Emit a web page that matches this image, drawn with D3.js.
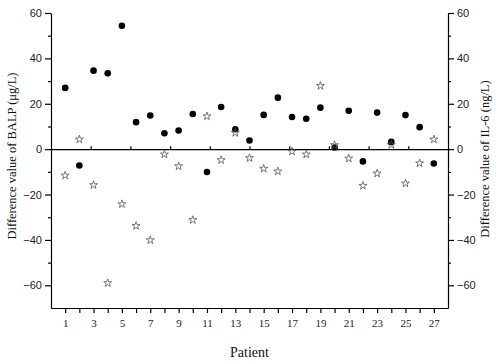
<!DOCTYPE html>
<html>
<head>
<meta charset="utf-8">
<script src="https://cdn.jsdelivr.net/npm/d3@7"></script>
<style>
  body { margin: 0; background: #fff; }
  .axis path, .axis line { stroke: #000; stroke-width: 1.2; }
  .yax text { font-family: "Liberation Sans", Arial, sans-serif; font-size: 11px; fill: #222; }
  .xax text { font-family: "Liberation Serif", "Times New Roman", serif; font-size: 11px; fill: #222; }
  .title { font-family: "Liberation Serif", "Times New Roman", serif; fill: #111; }
</style>
</head>
<body>
<div id="chart"></div>
<script>
// data
const patients = d3.range(1, 28)
const balp = [27.0, -7.2, 34.6, 33.4, 54.4, 11.9, 14.8, 7.0, 8.2, 15.5,
  -10.1, 18.6, 8.8, 3.8, 15.1, 22.7, 14.2, 13.4, 18.3, 0.7,
  16.9, -5.4, 16.1, 3.2, 15.0, 9.7, -6.3]
const il6 = [-11.6, 4.3, -15.8, -59.0, -24.2, -33.8, -40.1, -2.3, -7.5, -31.2,
  14.5, -4.8, 7.2, -3.9, -8.6, -9.8, -1.0, -2.3, 27.9, 1.8,
  -4.1, -16.1, -10.7, 1.9, -15.1, -6.2, 4.3]
const yTicks = [-60, -40, -20, 0, 20, 40, 60]
const yMinor = [-50, -30, -10, 10, 30, 50]

const width = 498
const height = 364
const margin = {top: 13, right: 50, bottom: 56, left: 51}
const innerW = width - margin.left - margin.right
const innerH = height - margin.top - margin.bottom

const svg = d3.select("#chart").append("svg")
  .attr("width", width)
  .attr("height", height)

const bounds = svg.append("g")
  .attr("transform", `translate(${margin.left},${margin.top})`)

const x = d3.scaleLinear().domain([0, 28]).range([0, innerW])
const y = d3.scaleLinear().domain([-70, 60]).range([innerH, 0])

// axes
bounds.append("g").attr("class", "axis yax")
  .call(d3.axisLeft(y).tickValues(yTicks).tickSize(6).tickSizeOuter(0).tickPadding(3))
bounds.append("g").attr("class", "axis")
  .call(d3.axisLeft(y).tickValues(yMinor).tickSize(3).tickFormat(""))
  .select(".domain").remove()

bounds.append("g").attr("class", "axis yax")
  .attr("transform", `translate(${innerW},0)`)
  .call(d3.axisRight(y).tickValues(yTicks).tickSize(6).tickSizeOuter(0).tickPadding(3))
bounds.append("g").attr("class", "axis")
  .attr("transform", `translate(${innerW},0)`)
  .call(d3.axisRight(y).tickValues(yMinor).tickSize(3).tickFormat(""))
  .select(".domain").remove()

bounds.append("g").attr("class", "axis xax")
  .attr("transform", `translate(0,${innerH})`)
  .call(d3.axisBottom(x).tickValues(patients).tickSize(5).tickSizeOuter(0).tickPadding(6)
    .tickFormat(d => d % 2 === 1 ? d : ""))

// zero line with its own small ticks
const zeroAxis = d3.scaleLinear().domain([0, 10]).range([0, innerW])
bounds.append("g").attr("class", "axis")
  .attr("transform", `translate(0,${y(0)})`)
  .call(d3.axisTop(zeroAxis).ticks(10).tickSize(3).tickSizeOuter(0).tickFormat(""))
  .selectAll(".tick").filter(d => d === 0 || d === 10).remove()

// data
bounds.append("g").selectAll("circle")
  .data(balp)
  .join("circle")
  .attr("cx", (d, i) => x(patients[i]))
  .attr("cy", d => y(d))
  .attr("r", 3.3)
  .attr("fill", "#000")

const star = d3.symbol().type(d3.symbolStar).size(20)
bounds.append("g").selectAll("path")
  .data(il6)
  .join("path")
  .attr("transform", (d, i) => `translate(${x(patients[i])},${y(d)})`)
  .attr("d", star)
  .attr("fill", "none")
  .attr("stroke", "#555")
  .attr("stroke-width", 0.8)

// titles
svg.append("text").attr("class", "title")
  .attr("x", margin.left + innerW / 2)
  .attr("y", 357)
  .attr("text-anchor", "middle")
  .style("font-size", "14px")
  .text("Patient")

svg.append("text").attr("class", "title")
  .attr("transform", "translate(16,156) rotate(-90)")
  .attr("text-anchor", "middle")
  .style("font-size", "12.5px")
  .text("Difference value of BALP (μg/L)")

svg.append("text").attr("class", "title")
  .attr("transform", "translate(489,159) rotate(-90)")
  .attr("text-anchor", "middle")
  .style("font-size", "12.5px")
  .text("Difference value of IL-6 (ng/L)")
</script>
</body>
</html>
